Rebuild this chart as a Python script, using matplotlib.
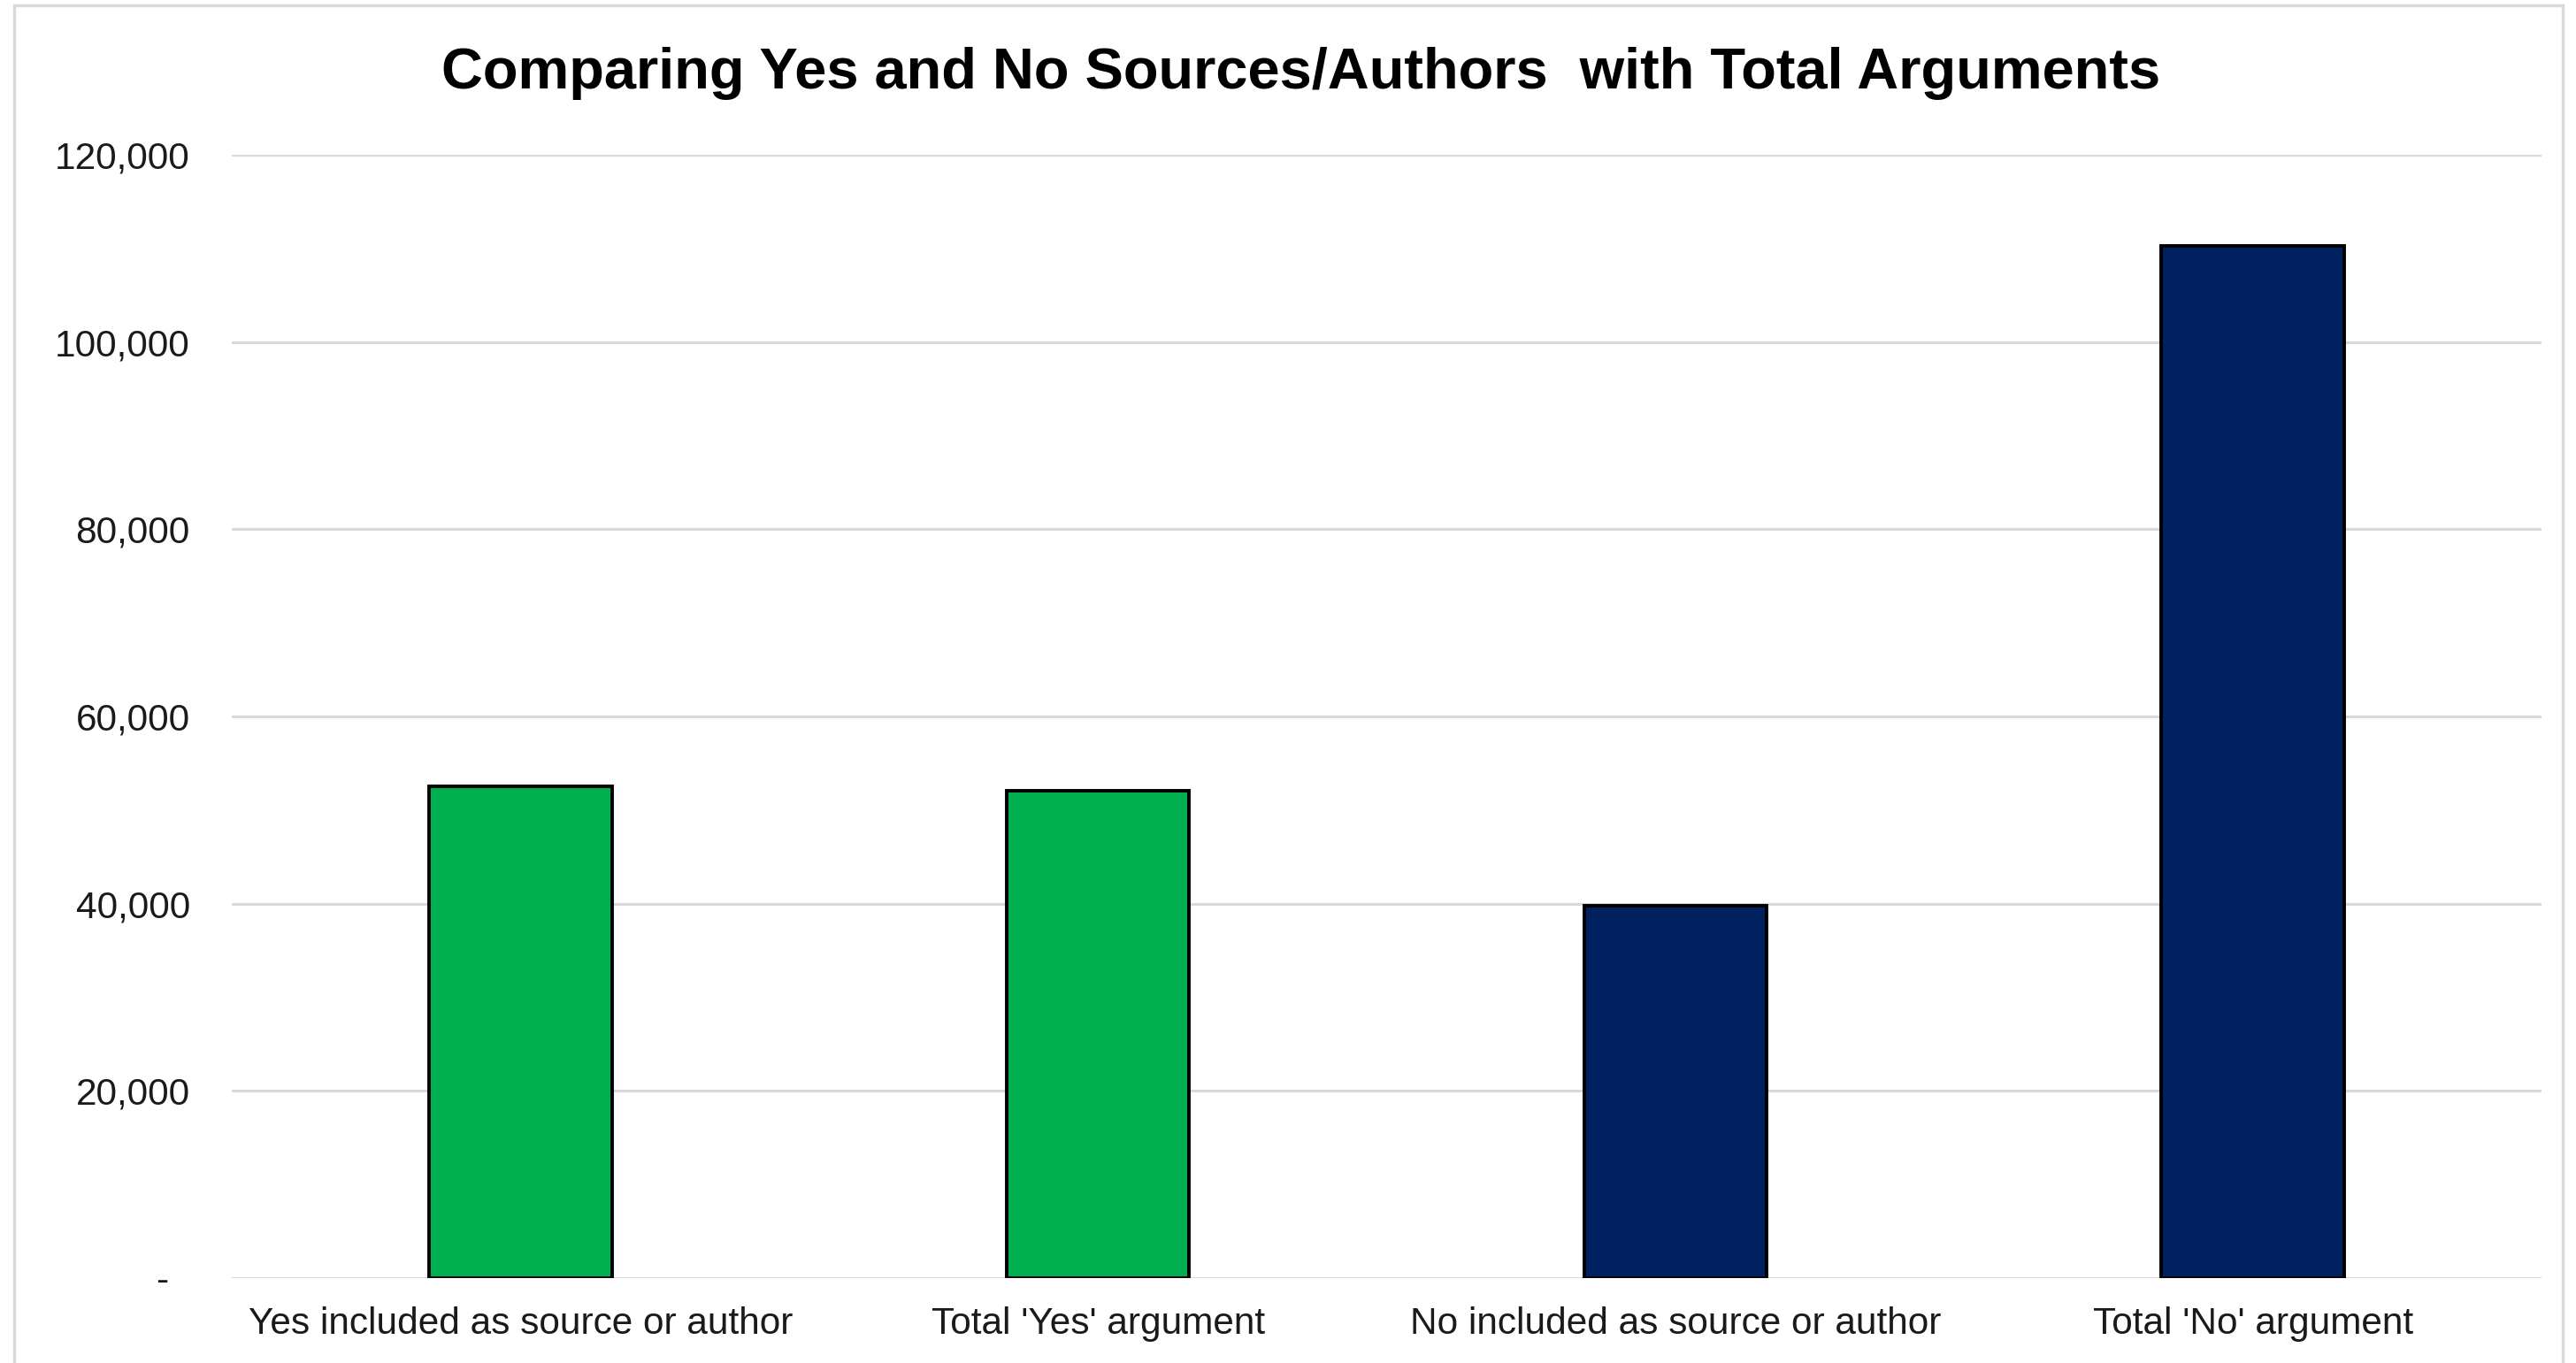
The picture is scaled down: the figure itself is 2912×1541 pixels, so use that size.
import matplotlib.pyplot as plt
from matplotlib.patches import Rectangle
from matplotlib.ticker import FuncFormatter

categories = ["Yes included as source or author", "Total 'Yes' argument",
              "No included as source or author", "Total 'No' argument"]
values = [52500, 52100, 39800, 110300]
bar_colors = ["#00B050", "#00B050", "#002060", "#002060"]
y_ticks = [0, 20000, 40000, 60000, 80000, 100000, 120000]

plt.rcParams['font.family'] = ['Liberation Sans', 'DejaVu Sans']

fig = plt.figure(figsize=(29.12, 15.41), dpi=100)
ax = fig.add_axes([0.090, 0.0623, 0.8966, 0.8241])

x = range(len(categories))
ax.bar(x, values, width=0.316, color=bar_colors, edgecolor="black", linewidth=2.8, zorder=3)

ax.set_xlim(-0.5, len(categories) - 0.5)
ax.set_ylim(0, 120000)
ax.set_yticks(y_ticks)


def fmt(v, pos):
    if v == 0:
        return "-  "
    return f"{int(v):,}"


ax.yaxis.set_major_formatter(FuncFormatter(fmt))
ax.set_xticks(list(x))
ax.set_xticklabels(categories)

ax.grid(axis="y", color="#d9d9d9", linewidth=2.2, zorder=0)
ax.set_axisbelow(True)
for s in ax.spines.values():
    s.set_visible(False)
ax.tick_params(axis="both", length=0, labelsize=30.5, colors="#1a1a1a")
ax.tick_params(axis="y", pad=34)
ax.tick_params(axis="x", pad=23)

fig.text(0.505, 0.946, "Comparing Yes and No Sources/Authors  with Total Arguments",
         ha="center", va="center", fontsize=46.8, fontweight="bold", color="black")

# chart border
fig.patches.append(Rectangle((16 / 2912, -0.01), (2897 - 16) / 2912, 1 - 6 / 1541 + 0.01,
                             transform=fig.transFigure, fill=False,
                             edgecolor="#d9d9d9", linewidth=2.5))

fig.savefig("out.png", dpi=100)
